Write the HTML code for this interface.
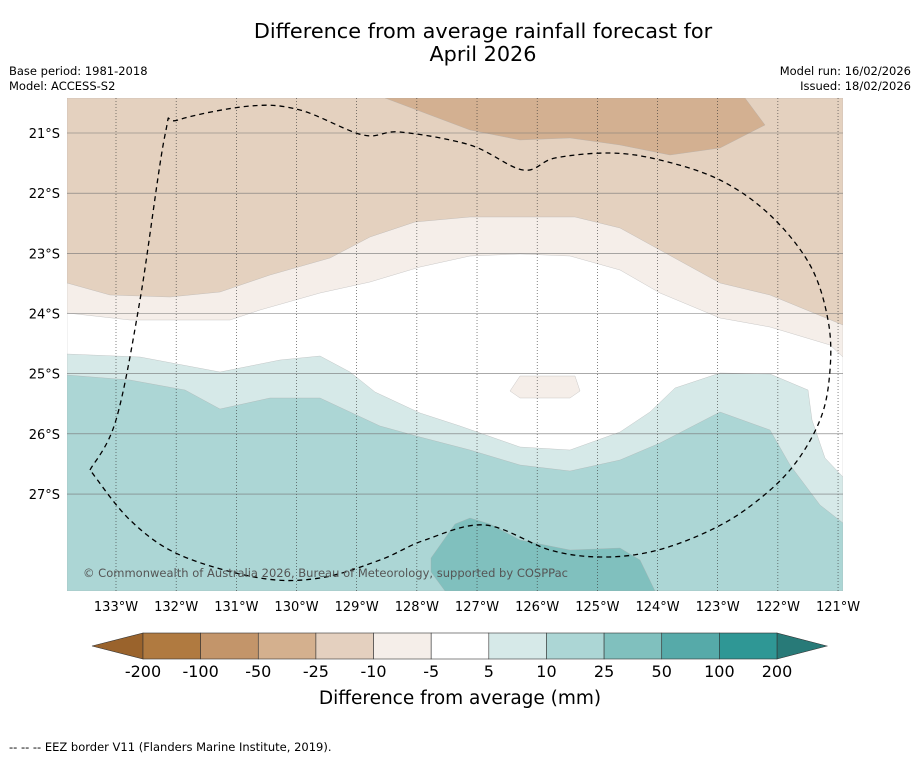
<!DOCTYPE html>
<html><head><meta charset="utf-8"><style>
body{margin:0;background:#fff;font-family:"DejaVu Sans","Liberation Sans",sans-serif;}
svg text{font-family:"DejaVu Sans","Liberation Sans",sans-serif;}
</style></head><body>
<svg id="chart" width="919" height="758" viewBox="0 0 919 758" xmlns="http://www.w3.org/2000/svg">
<rect width="919" height="758" fill="#fff"/>
<text x="483" y="38" font-size="20.8" text-anchor="middle">Difference from average rainfall forecast for</text>
<text x="483" y="61" font-size="20.8" text-anchor="middle">April 2026</text>
<text x="9" y="75" font-size="11.5">Base period: 1981-2018</text>
<text x="9" y="90" font-size="11.5">Model: ACCESS-S2</text>
<text x="911" y="75" font-size="11.5" text-anchor="end">Model run: 16/02/2026</text>
<text x="911" y="90" font-size="11.5" text-anchor="end">Issued: 18/02/2026</text>
<defs><clipPath id="mapclip"><rect x="67" y="98" width="776" height="493"/></clipPath></defs>
<g id="map" clip-path="url(#mapclip)"></g>
<g id="axes"></g>
<g id="cbar"></g>
<text x="460" y="704" font-size="18.5" text-anchor="middle">Difference from average (mm)</text>
<text x="9" y="751" font-size="11.5">--  --  -- EEZ border V11 (Flanders Marine Institute, 2019).</text>
</svg>
<script>
const lonTicks=[-133,-132,-131,-130,-129,-128,-127,-126,-125,-124,-123,-122,-121];
const latTicks=[-21,-22,-23,-24,-25,-26,-27];
const cbarLabels=["-200","-100","-50","-25","-10","-5","5","10","25","50","100","200"];
const cbarColors=["#b07a40","#c3956a","#d4b08e","#e4d0bf","#f5eee9","#ffffff","#d6e9e8","#acd6d5","#80c0be","#56aaa9","#2f9795"];
function P(arr){return arr.map(p=>[-133+(p[0]-116)/60.17,-21-(p[1]-133)/60.17]);}
const regionTan=P([[67,98],[843,98],[843,591],[67,591]]);
const regionBrown=P([[385,98],[470,130],[520,140],[570,138],[620,145],[670,155],[720,148],[765,125],[745,98]]);
const regionLight=P([[67,283],[110,295],[170,297],[220,292],[270,275],[330,258],[370,237],[415,222],[470,217],[575,217],[620,228],[660,250],[720,283],[770,295],[843,325],[843,591],[67,591]]);
const regionWhite=P([[67,313],[130,320],[230,320],[260,310],[320,293],[370,282],[420,267],[470,256],[520,254],[570,256],[620,270],[660,293],[720,318],[770,327],[830,345],[843,357],[843,591],[67,591]]);
const regionTeal1=P([[67,354],[140,357],[220,372],[280,360],[320,356],[350,372],[375,392],[420,413],[460,426],[520,447],[570,450],[620,432],[650,412],[675,388],[720,373],[770,374],[808,390],[812,420],[825,458],[843,477],[843,591],[67,591]]);
const regionTeal2=P([[67,375],[130,380],[185,390],[220,409],[270,398],[320,398],[380,426],[420,437],[470,450],[520,465],[570,471],[620,460],[660,443],[720,412],[770,430],[790,465],[820,505],[843,523],[843,591],[67,591]]);
const regionTeal3=P([[431,558],[455,524],[470,518],[490,524],[520,540],[570,550],[620,548],[640,560],[655,591],[445,591],[431,572]]);
const regionPatch=P([[510,391],[520,376],[575,376],[580,391],[570,398],[520,398]]);
const eez=P([[90,470],[116,420],[140,300],[165,135],[178,120],[250,106],[300,110],[363,135],[400,132],[470,145],[523,170],[555,158],[610,153],[660,160],[720,180],[770,215],[810,265],[828,320],[830,370],[820,420],[790,470],[745,510],[700,535],[650,552],[600,557],[550,550],[485,525],[425,540],[380,560],[320,578],[260,578],[180,555],[130,520],[90,470]]);
const NS="http://www.w3.org/2000/svg";
function xS(lon){return 116+(lon+133)*60.17;}
function yS(lat){return 133+(-21-lat)*60.17;}
function pts(a){return a.map(p=>xS(p[0]).toFixed(1)+","+yS(p[1]).toFixed(1)).join(" ");}
function smooth(a){const q=a.map(p=>[xS(p[0]),yS(p[1])]);let d="M"+q[0][0]+","+q[0][1];
for(let i=0;i<q.length-1;i++){const p0=q[Math.max(i-1,0)],p1=q[i],p2=q[i+1],p3=q[Math.min(i+2,q.length-1)];
const c1=[p1[0]+(p2[0]-p0[0])/6,p1[1]+(p2[1]-p0[1])/6],c2=[p2[0]-(p3[0]-p1[0])/6,p2[1]-(p3[1]-p1[1])/6];
d+=` C${c1[0].toFixed(1)},${c1[1].toFixed(1)} ${c2[0].toFixed(1)},${c2[1].toFixed(1)} ${p2[0].toFixed(1)},${p2[1].toFixed(1)}`;}return d;}
const map=document.getElementById('map');
const layers=[[regionTan,"#e4d1bf","region-minus25-minus10"],[regionBrown,"#d3b091","region-minus50-minus25"],[regionLight,"#f5eee9","region-minus10-minus5"],[regionWhite,"#ffffff","region-near-average"],[regionTeal1,"#d6e9e8","region-5-10"],[regionTeal2,"#acd6d5","region-10-25"],[regionTeal3,"#80c0be","region-25-50"],[regionPatch,"#f5eee9","patch-minus10-minus5"]];
layers.forEach(l=>{const p=document.createElementNS(NS,'polygon');p.setAttribute('points',pts(l[0]));p.setAttribute('fill',l[1]);p.setAttribute('stroke','#aaa');p.setAttribute('stroke-width','0.3');


map.appendChild(p);});
lonTicks.forEach(t=>{const l=document.createElementNS(NS,'line');l.setAttribute('x1',xS(t));l.setAttribute('x2',xS(t));l.setAttribute('y1',98);l.setAttribute('y2',591);l.setAttribute('stroke','#333');l.setAttribute('stroke-width','0.6');l.setAttribute('stroke-dasharray','1,2');


map.appendChild(l);});
latTicks.forEach(t=>{const l=document.createElementNS(NS,'line');l.setAttribute('x1',67);l.setAttribute('x2',843);l.setAttribute('y1',yS(t));l.setAttribute('y2',yS(t));l.setAttribute('stroke','#777');l.setAttribute('stroke-width','0.6');


map.appendChild(l);});
const e=document.createElementNS(NS,'path');e.setAttribute('d',smooth(eez));e.setAttribute('fill','none');e.setAttribute('stroke','#000');e.setAttribute('stroke-width','1.3');e.setAttribute('stroke-dasharray','5,4');


map.appendChild(e);
const cp=document.createElementNS(NS,'text');cp.setAttribute('x',83);cp.setAttribute('y',577);cp.setAttribute('font-size','11.5');cp.setAttribute('fill','#555');cp.setAttribute('textLength','485');cp.textContent='© Commonwealth of Australia 2026, Bureau of Meteorology, supported by COSPPac';


map.appendChild(cp);
const ax=document.getElementById('axes');
lonTicks.forEach(t=>{const tx=document.createElementNS(NS,'text');tx.setAttribute('x',xS(t));tx.setAttribute('y',611);tx.setAttribute('font-size','13');tx.setAttribute('text-anchor','middle');tx.textContent=Math.abs(t)+'°W';


ax.appendChild(tx);});
latTicks.forEach(t=>{const tx=document.createElementNS(NS,'text');tx.setAttribute('x',60);tx.setAttribute('y',yS(t)+5);tx.setAttribute('font-size','13');tx.setAttribute('text-anchor','end');tx.textContent=Math.abs(t)+'°S';


ax.appendChild(tx);});
const cb=document.getElementById('cbar');
const x0=143,x1=777,cy0=633,cy1=659,w=(x1-x0)/cbarColors.length;
const lt=document.createElementNS(NS,'polygon');lt.setAttribute('points',`92,646 ${x0},${cy0} ${x0},${cy1}`);lt.setAttribute('fill','#9a632c');lt.setAttribute('stroke','#333');lt.setAttribute('stroke-width','0.6');


cb.appendChild(lt);
const rt=document.createElementNS(NS,'polygon');rt.setAttribute('points',`827,646 ${x1},${cy0} ${x1},${cy1}`);rt.setAttribute('fill','#287a78');rt.setAttribute('stroke','#333');rt.setAttribute('stroke-width','0.6');


cb.appendChild(rt);
cbarColors.forEach((c,i)=>{const r=document.createElementNS(NS,'rect');r.setAttribute('x',x0+i*w);r.setAttribute('y',cy0);r.setAttribute('width',w);r.setAttribute('height',cy1-cy0);r.setAttribute('fill',c);r.setAttribute('stroke','#333');r.setAttribute('stroke-width','0.6');


cb.appendChild(r);});
cbarLabels.forEach((s,i)=>{const tx=document.createElementNS(NS,'text');tx.setAttribute('x',x0+i*w);tx.setAttribute('y',677);tx.setAttribute('font-size','16');tx.setAttribute('text-anchor','middle');tx.textContent=s;


cb.appendChild(tx);});
</script>
</body></html>
